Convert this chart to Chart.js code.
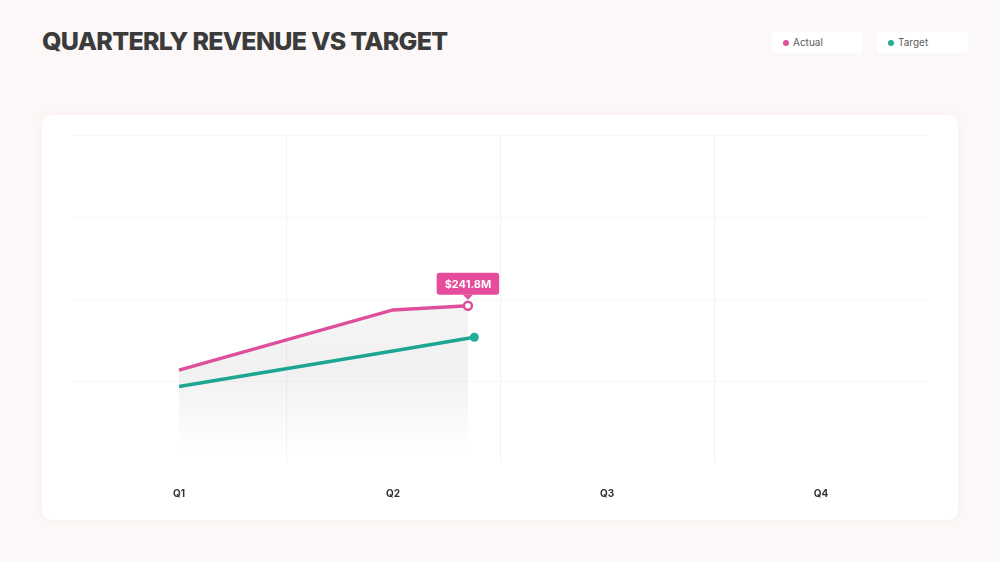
<!DOCTYPE html>
<html>
<head>
<meta charset="utf-8">
<script src="https://cdn.jsdelivr.net/npm/chart.js@4.4.1/dist/chart.umd.min.js"></script>
<style>
  html, body { margin: 0; padding: 0; }
  body { width: 1000px; height: 562px; background: #fcf8f7; position: relative; overflow: hidden; font-family: Inter, "Noto Sans", sans-serif; }
  h1 { position: absolute; left: 42px; top: 26px; margin: 0; font-size: 25px; font-weight: 800; color: #3b3b3b; letter-spacing: -0.7px; }
  .legend { position: absolute; top: 32px; height: 21px; width: 91px; background: #fff; border-radius: 3px; font-size: 10px; color: #5a5a5a; line-height: 21px; box-sizing: border-box; padding-left: 21px; }
  .legend i { position: absolute; left: 11px; top: 7.5px; width: 6px; height: 6px; border-radius: 50%; }
  .card { position: absolute; left: 42px; top: 115px; width: 916px; height: 405px; background: #fff; border-radius: 10px; box-shadow: 0 0 6px rgba(200,170,160,0.12); }
  .card canvas { position: absolute; left: 0; top: 0; }
</style>
</head>
<body>
<h1>QUARTERLY REVENUE VS TARGET</h1>
<div class="legend" style="left:772px"><i style="background:#de4f9b"></i>Actual</div>
<div class="legend" style="left:877px"><i style="background:#1fae9a"></i>Target</div>
<div class="card"><canvas id="revChart" width="916" height="430"></canvas></div>

<script>
// quarters on the x axis
const quarters = ['Q1', 'Q2', 'Q3', 'Q4'];

// revenue in $M; x is the position along the quarters (0 = Q1), line stops part way
const actualX = [0, 1, 1.35];
const actualValues = [183, 238, 241.8];
const targetX = [0, 1, 1.38];
const targetValues = [168, 200.5, 213];

const pink = '#de4f9b';
const teal = '#1fae9a';

function toPoints(xs, ys) {
  return xs.map((x, i) => ({ x: x, y: ys[i] }));
}

// little pink label above the last actual point
const lastValueLabel = {
  id: 'lastValueLabel',
  afterDatasetsDraw(chart) {
    const meta = chart.getDatasetMeta(0);
    const pt = meta.data[meta.data.length - 1];
    const value = actualValues[actualValues.length - 1];
    const text = '$' + value.toFixed(1) + 'M';
    const ctx = chart.ctx;
    ctx.save();
    ctx.font = 'bold 11px Inter, "Noto Sans", sans-serif';
    const w = ctx.measureText(text).width + 16;
    const h = 22;
    const bottom = pt.y - 11;
    const left = pt.x - w / 2;
    ctx.fillStyle = '#e54c9c';
    ctx.beginPath();
    ctx.roundRect(left, bottom - h, w, h, 3);
    ctx.fill();
    ctx.beginPath();
    ctx.moveTo(pt.x - 5, bottom);
    ctx.lineTo(pt.x, bottom + 5);
    ctx.lineTo(pt.x + 5, bottom);
    ctx.closePath();
    ctx.fill();
    ctx.fillStyle = '#fff';
    ctx.textAlign = 'center';
    ctx.textBaseline = 'middle';
    ctx.fillText(text, pt.x, bottom - h / 2 + 0.5);
    ctx.restore();
  }
};

function fillGradient(context) {
  const area = context.chart.chartArea;
  if (!area) return 'rgba(0,0,0,0.04)';
  const g = context.chart.ctx.createLinearGradient(0, area.top, 0, area.bottom);
  g.addColorStop(0, 'rgba(0,0,0,0.0)');
  g.addColorStop(0.45, 'rgba(0,0,0,0.035)');
  g.addColorStop(0.72, 'rgba(0,0,0,0.055)');
  g.addColorStop(0.97, 'rgba(0,0,0,0.0)');
  return g;
}

const ctx = document.getElementById('revChart').getContext('2d');
const chart = new Chart(ctx, {
  type: 'line',
  data: {
    datasets: [
      {
        label: 'Actual',
        data: toPoints(actualX, actualValues),
        borderColor: pink,
        borderWidth: 3.5,
        tension: 0,
        fill: 'start',
        backgroundColor: fillGradient,
        pointRadius: actualValues.map((v, i) => i === actualValues.length - 1 ? 4 : 0),
        pointBackgroundColor: '#fff',
        pointBorderColor: pink,
        pointBorderWidth: 2.5,
        xAxisID: 'x'
      },
      {
        label: 'Target',
        data: toPoints(targetX, targetValues),
        borderColor: teal,
        borderWidth: 3.5,
        tension: 0,
        fill: false,
        pointRadius: targetValues.map((v, i) => i === targetValues.length - 1 ? 4.5 : 0),
        pointBackgroundColor: teal,
        pointBorderColor: teal,
        pointBorderWidth: 0,
        xAxisID: 'x'
      }
    ]
  },
  options: {
    responsive: false,
    animation: false,
    layout: { padding: { left: 30, right: 30, top: 20, bottom: 20 } },
    plugins: {
      legend: { display: false },
      tooltip: { enabled: false }
    },
    scales: {
      x: {
        type: 'linear',
        min: -0.5,
        max: 3.5,
        display: false
      },
      xq: {
        type: 'category',
        labels: quarters,
        position: 'bottom',
        offset: true,
        border: { display: false },
        grid: {
          offset: true,
          drawTicks: false,
          color: c => (c.index > 0 && c.index < quarters.length) ? '#f3f1f1' : 'rgba(0,0,0,0)'
        },
        ticks: {
          padding: 25,
          color: '#333',
          font: { family: 'Inter, "Noto Sans", sans-serif', size: 10, weight: 'bold' }
        }
      },
      y: {
        min: 98,
        max: 398,
        border: { display: false },
        grid: {
          drawTicks: false,
          color: c => c.index === 0 ? 'rgba(0,0,0,0)' : '#f8f6f6'
        },
        ticks: { display: false, count: 5 }
      }
    }
  },
  plugins: [lastValueLabel]
});
</script>
</body>
</html>
